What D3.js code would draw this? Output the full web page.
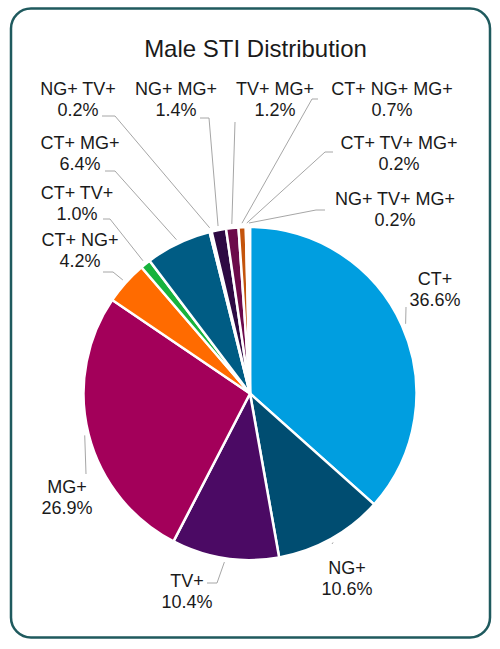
<!DOCTYPE html>
<html>
<head>
<meta charset="utf-8">
<script src="https://cdn.jsdelivr.net/npm/d3@7"></script>
<style>
  html, body { margin: 0; padding: 0; background: #fff; }
  #chart { width: 500px; height: 649px; }
  .lbl { font-family: "Liberation Sans", Arial, sans-serif; font-size: 18px; fill: #1a1a1a; }
</style>
</head>
<body>
<div id="chart"></div>
<script>
// ***************数据*******************
const categories = ['CT+', 'NG+', 'TV+', 'MG+', 'CT+ NG+', 'CT+ TV+', 'CT+ MG+',
    'NG+ TV+', 'NG+ MG+', 'TV+ MG+', 'CT+ NG+ MG+', 'CT+ TV+ MG+', 'NG+ TV+ MG+'];
const shares = [36.6, 10.6, 10.4, 26.9, 4.2, 1.0, 6.4, 0.2, 1.4, 1.2, 0.7, 0.2, 0.2];
const sliceColors = ['#009ee0', '#004d71', '#4b0a64', '#a3005a', '#ff6b00', '#17b33c', '#005c84',
    '#f4f8fa', '#2e0a43', '#6c0a4a', '#c4540c', '#f4f8fa', '#f4f8fa'];

// 标签位置 (Excel里手动摆放的): [文字中心x, 第一行基线y, 引线起点x, 引线起点y, 水平短线长度]
const labelPos = [
    [435, 285, 406, 307, 0],
    [347, 574, 332, 544, 0],
    [187, 587, 207, 583, 10],
    [67, 493, 86, 474, 0],
    [80, 246, 103, 272, 10],
    [77, 199, 103, 219, 7],
    [80, 149, 105, 171, 10],
    [78, 95, 102, 116, 13],
    [176, 95, 200, 118, 9],
    [275, 95, 235, 122, 0],
    [392, 95, 318, 99, -6],
    [399, 149, 333, 152, -8],
    [395, 205, 325, 210, -9]
];

const width = 500;
const height = 649;
const cx = 250;
const cy = 393.5;
const radius = 166.5;
const lineH = 21;

const svg = d3.select('#chart').append('svg')
    .attr('width', width)
    .attr('height', height);

// 边框
svg.append('rect')
    .attr('x', 11)
    .attr('y', 8.5)
    .attr('width', 479)
    .attr('height', 629)
    .attr('rx', 20)
    .attr('fill', '#fff')
    .attr('stroke', '#1f5a5e')
    .attr('stroke-width', 2.5);

// 标题
svg.append('text')
    .attr('class', 'lbl')
    .attr('x', 255.5)
    .attr('y', 57)
    .attr('text-anchor', 'middle')
    .style('font-size', '24px')
    .text('Male STI Distribution');

const pie = d3.pie()
    .sort(null)
    .value((d) => d);
const arcs = pie(shares);

const arc = d3.arc()
    .innerRadius(0)
    .outerRadius(radius);
const outerArc = d3.arc()
    .innerRadius(radius + 4)
    .outerRadius(radius + 4);

const g = svg.append('g')
    .attr('transform', `translate(${cx},${cy})`);

// ***************扇形***************
g.selectAll('path.slice')
    .data(arcs)
    .enter()
    .append('path')
    .attr('class', 'slice')
    .attr('d', arc)
    .attr('fill', (d, i) => sliceColors[i])
    .attr('stroke', '#fff')
    .attr('stroke-width', 2.5)
    .attr('stroke-linejoin', 'round');

// ***************引线***************
svg.append('g')
    .selectAll('path')
    .data(arcs)
    .enter()
    .append('path')
    .attr('d', (d, i) => {
        const p = labelPos[i];
        const end = outerArc.centroid(d);
        const pts = [[p[2], p[3]]];
        if (p[4]) pts.push([p[2] + p[4], p[3]]);
        pts.push([end[0] + cx, end[1] + cy]);
        return d3.line()(pts);
    })
    .attr('fill', 'none')
    .attr('stroke', '#a6a6a6')
    .attr('stroke-width', 1);

// ***************标签***************
const labels = svg.append('g')
    .selectAll('text')
    .data(arcs)
    .enter()
    .append('text')
    .attr('class', 'lbl')
    .attr('text-anchor', 'middle');
labels.append('tspan')
    .attr('x', (d, i) => labelPos[i][0])
    .attr('y', (d, i) => labelPos[i][1])
    .text((d, i) => categories[i]);
labels.append('tspan')
    .attr('x', (d, i) => labelPos[i][0])
    .attr('y', (d, i) => labelPos[i][1] + lineH)
    .text((d) => `${d3.format('.1f')(d.data)}%`);
</script>
</body>
</html>
